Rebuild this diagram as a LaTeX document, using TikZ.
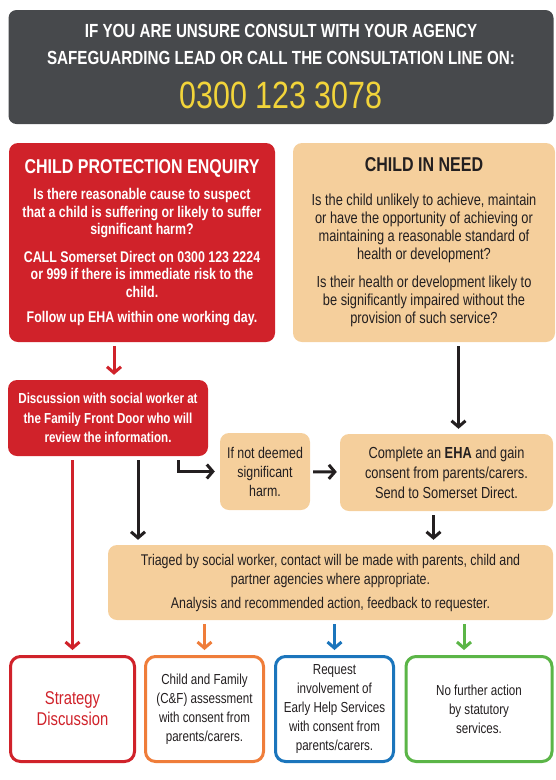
\documentclass[tikz,border=0pt]{standalone}
\usepackage{fontspec}
\setmainfont{Liberation Sans}[FakeStretch=0.8]
\usetikzlibrary{arrows.meta}
\definecolor{cpred}{HTML}{D0222A}
\definecolor{peach}{HTML}{F5CF9C}
\definecolor{slate}{HTML}{47494C}
\definecolor{phone}{HTML}{F2D43A}
\definecolor{ink}{HTML}{231F20}
\definecolor{cforange}{HTML}{EF7D3A}
\definecolor{ehblue}{HTML}{1B75BC}
\definecolor{nfgreen}{HTML}{5BB547}
\begin{document}
\begin{tikzpicture}[
		x=1pt, y=-1pt,
		txt/.style={align=center, inner sep=0pt, font=\fontsize{15.5}{18}\selectfont},
		redbox/.style={txt, fill=cpred, text=white, rounded corners=9pt, font=\bfseries\fontsize{15.5}{17.5}\selectfont},
		peachbox/.style={txt, fill=peach, text=ink, rounded corners=9pt},
		outbox/.style={txt, draw=#1, fill=white, line width=3pt, rounded corners=10pt, text=ink, font=\fontsize{14.5}{19}\selectfont},
		arr/.style={line width=3pt, draw=ink, -{Straight Barb[length=6pt,width=14pt]}, shorten <=4pt, shorten >=5pt},
		redarr/.style={arr, draw=cpred}
		]
		\useasboundingbox (0,0) rectangle (555,780);
		% header
		\node[txt, fill=slate, text=white, rounded corners=8pt, minimum width=545, minimum height=114, font=\bfseries\fontsize{19}{27}\selectfont] (head) at (281,67)
			{IF YOU ARE UNSURE CONSULT WITH YOUR AGENCY\\ SAFEGUARDING LEAD OR CALL THE CONSULTATION LINE ON:\\[17pt]
			{\color{phone}\mdseries\fontsize{38}{38}\selectfont 0300 123 3078}};
		% top row
		\node[redbox, minimum width=266, minimum height=199] (cpe) at (142,242.5)
			{{\fontsize{20}{20}\selectfont CHILD PROTECTION ENQUIRY}\\[9pt]
			Is there reasonable cause to suspect\\ that a child is suffering or likely to suffer\\ significant harm?\\[10pt]
			CALL Somerset Direct on 0300 123 2224\\ or 999 if there is immediate risk to the\\ child.\\[8pt]
			Follow up EHA within one working day.};
		\node[peachbox, minimum width=262, minimum height=199, font=\fontsize{16}{18}\selectfont] (cin) at (424,242.5)
			{{\bfseries\fontsize{20}{20}\selectfont CHILD IN NEED}\\[16pt]
			Is the child unlikely to achieve, maintain\\ or have the opportunity of achieving or\\ maintaining a reasonable standard of\\ health or development?\\[10pt]
			Is their health or development likely to\\ be significantly impaired without the\\ provision of such service?};
		% middle row
		\node[redbox, minimum width=200, minimum height=76, font=\bfseries\fontsize{14.5}{19.5}\selectfont] (disc) at (108,418)
			{Discussion with social worker at\\ the Family Front Door who will\\ review the information.};
		\node[peachbox, minimum width=90, minimum height=77, font=\fontsize{15.5}{19}\selectfont] (notsig) at (265,471.5)
			{If not deemed\\ significant\\ harm.};
		\node[peachbox, minimum width=213, minimum height=77, font=\fontsize{16}{20}\selectfont] (eha) at (446.5,472.5)
			{Complete an \textbf{EHA} and gain\\ consent from parents/carers.\\ Send to Somerset Direct.};
		\node[peachbox, minimum width=445, minimum height=75, font=\fontsize{15.5}{19}\selectfont] (triage) at (330.5,582.5)
			{Triaged by social worker, contact will be made with parents, child and\\ partner agencies where appropriate.\\[5pt]
			Analysis and recommended action, feedback to requester.};
		% outcomes
		\node[outbox=cpred, minimum width=124, minimum height=105, text=cpred, font=\fontsize{18.5}{21}\selectfont] (strat) at (72.5,709)
			{Strategy\\ Discussion};
		\node[outbox=cforange, minimum width=118, minimum height=105] (cf) at (204.5,709)
			{Child and Family\\ (C\&F) assessment\\ with consent from\\ parents/carers.};
		\node[outbox=ehblue, minimum width=118, minimum height=105] (eh) at (334.5,709)
			{Request\\ involvement of\\ Early Help Services\\ with consent from\\ parents/carers.};
		\node[outbox=nfgreen, minimum width=146, minimum height=105] (nfa) at (479,709)
			{No further action\\ by statutory\\ services.};
		% connectors
		\draw[redarr] ([xshift=6pt]disc.north |- cpe.south) -- ([xshift=6pt]disc.north);
		\draw[arr] ([xshift=12pt]eha.north |- cin.south) -- ([xshift=12pt]eha.north);
		\draw[arr] ([xshift=70pt]disc.south) |- (notsig.west);
		\draw[arr, shorten <=3pt, shorten >=3pt] (notsig) -- (eha);
		\draw[arr] ([xshift=30pt]disc.south) -- ([xshift=30pt]disc.south |- triage.north);
		\draw[arr] ([xshift=-13pt]eha.south) -- ([xshift=-13pt]eha.south |- triage.north);
		\draw[redarr] (strat.north |- disc.south) -- (strat.north);
		\draw[arr, draw=cforange] (cf.north |- triage.south) -- (cf.north);
		\draw[arr, draw=ehblue] (eh.north |- triage.south) -- (eh.north);
		\draw[arr, draw=nfgreen] ([xshift=-15pt]nfa.north |- triage.south) -- ([xshift=-15pt]nfa.north);
	\end{tikzpicture}
\end{document}
